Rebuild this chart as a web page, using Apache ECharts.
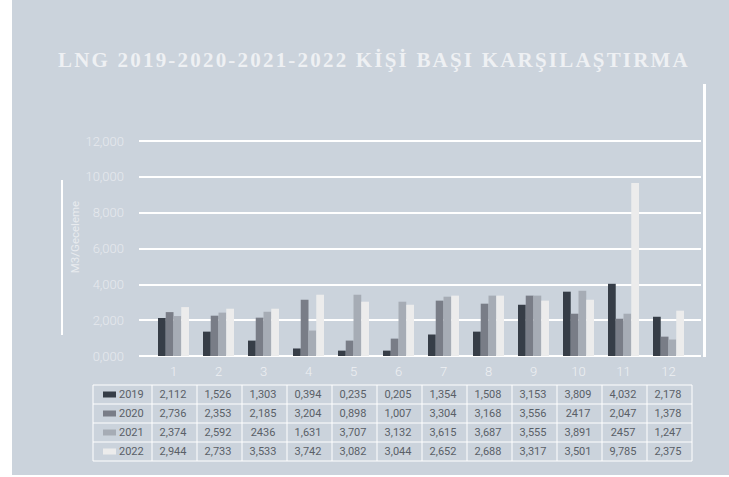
<!DOCTYPE html>
<html><head><meta charset="utf-8">
<script src="https://cdn.jsdelivr.net/npm/echarts@6/dist/echarts.min.js"></script>
<style>html,body{margin:0;padding:0;background:#fff}#c{width:729px;height:477px}</style>
</head><body><div id="c"></div>
<script>
const titleText = 'LNG 2019-2020-2021-2022 KİŞİ BAŞI KARŞILAŞTIRMA';
const axisName = 'M3/Geceleme';
const months = ['1','2','3','4','5','6','7','8','9','10','11','12'];
const yTicks = [0, 2, 4, 6, 8, 10, 12];
const seriesNames = ['2019','2020','2021','2022'];
// bar heights as drawn in the picture
const bars2019 = [2.12, 1.36, 0.86, 0.42, 0.30, 0.30, 1.20, 1.36, 2.86, 3.59, 4.03, 2.19];
const bars2020 = [2.45, 2.25, 2.14, 3.14, 0.86, 0.97, 3.09, 2.92, 3.37, 2.36, 2.08, 1.08];
const bars2021 = [2.23, 2.42, 2.47, 1.42, 3.42, 3.03, 3.31, 3.37, 3.37, 3.64, 2.36, 0.92];
const bars2022 = [2.73, 2.64, 2.64, 3.42, 3.03, 2.86, 3.37, 3.37, 3.09, 3.14, 9.65, 2.53];
// data table text as printed
const table2019 = ['2,112','1,526','1,303','0,394','0,235','0,205','1,354','1,508','3,153','3,809','4,032','2,178'];
const table2020 = ['2,736','2,353','2,185','3,204','0,898','1,007','3,304','3,168','3,556','2417','2,047','1,378'];
const table2021 = ['2,374','2,592','2436','1,631','3,707','3,132','3,615','3,687','3,555','3,891','2457','1,247'];
const table2022 = ['2,944','2,733','3,533','3,742','3,082','3,044','2,652','2,688','3,317','3,501','9,785','2,375'];
const colors = ['#363d47','#797d87','#a6acb5','#ececec'];

const barData = [bars2019, bars2020, bars2021, bars2022];
const tableData = [table2019, table2020, table2021, table2022];

const chart = echarts.init(document.getElementById('c'), null, {renderer:'svg'});
const gTop = 141, gBottom = 121;
const tLeft = 93, legW = 59, colW = 45, tTop = 385, rowH = 19;
const txtColor = '#5a5f67';
const graphics = [
  {type:'rect', shape:{x:12,y:0,width:717,height:475}, style:{fill:'#cbd3dc'}, z:-10},
  {type:'rect', shape:{x:61,y:180,width:2,height:155}, style:{fill:'#ffffff'}},
  {type:'rect', shape:{x:703,y:84,width:3,height:273}, style:{fill:'#ffffff'}},
  {type:'text', x:75, y:237, rotation:Math.PI/2, style:{text:axisName, fill:'#e8ebef', font:'11.5px Roboto', textAlign:'center', textVerticalAlign:'middle'}}
];
// table grid
const tRight = tLeft + legW + colW*12;
for (let r=0; r<=4; r++) {
  graphics.push({type:'line', shape:{x1:tLeft,y1:tTop+r*rowH,x2:tRight,y2:tTop+r*rowH}, style:{stroke:'#ffffff',lineWidth:1}});
}
graphics.push({type:'line', shape:{x1:tLeft,y1:tTop,x2:tLeft,y2:tTop+4*rowH}, style:{stroke:'#ffffff',lineWidth:1}});
for (let c=0; c<=12; c++) {
  const x = tLeft+legW+c*colW;
  graphics.push({type:'line', shape:{x1:x,y1:tTop,x2:x,y2:tTop+4*rowH}, style:{stroke:'#ffffff',lineWidth:1}});
}
for (let r=0; r<4; r++) {
  const cy = tTop + r*rowH + rowH/2;
  graphics.push({type:'rect', shape:{x:tLeft+10,y:cy-3,width:13,height:6}, style:{fill:colors[r]}});
  graphics.push({type:'text', x:tLeft+26, y:cy, style:{text:seriesNames[r], fill:txtColor, font:'11px Roboto', textVerticalAlign:'middle'}});
  for (let c=0; c<12; c++) {
    graphics.push({type:'text', x:tLeft+legW+c*colW+colW/2-1.5, y:cy, style:{text:tableData[r][c], fill:txtColor, font:'11px Roboto', textAlign:'center', textVerticalAlign:'middle'}});
  }
}

chart.setOption({
  animation:false,
  backgroundColor:'#ffffff',
  title:{text:titleText, left:369, top:44, textAlign:'center', textStyle:{fontFamily:'Liberation Serif', fontSize:21, fontWeight:'bold', color:'#eef0f3'}},
  grid:[
    {left:139, right:28, top:gTop, bottom:gBottom},
    {left:151, right:38, top:gTop, bottom:gBottom}
  ],
  xAxis:[
    {gridIndex:0, type:'value', show:false, min:0, max:1},
    {gridIndex:1, type:'category', data:months, axisLine:{show:false}, axisTick:{show:false},
     axisLabel:{color:'#eef0f3', fontFamily:'Roboto', fontWeight:300, fontSize:13, margin:9}}
  ],
  yAxis:[
    {gridIndex:0, type:'value', min:yTicks[0], max:yTicks[yTicks.length-1], interval:2,
     axisLine:{show:false}, axisTick:{show:false},
     splitLine:{lineStyle:{color:'#ffffff', width:2}},
     axisLabel:{color:'#e6e9ee', fontFamily:'Roboto', fontWeight:300, fontSize:13, margin:15,
       formatter:v=>v.toFixed(3).replace('.', ',')}},
    {gridIndex:1, type:'value', min:yTicks[0], max:yTicks[yTicks.length-1], interval:2, show:false, splitLine:{show:false}}
  ],
  series: seriesNames.map((n,i)=>({
    name:n, type:'bar', xAxisIndex:1, yAxisIndex:1, data:barData[i],
    barGap:'0%', barCategoryGap:'31%', itemStyle:{color:colors[i]}
  })),
  graphic: graphics
});
document.querySelectorAll('#c text').forEach(t => {
  if (t.textContent === titleText) t.setAttribute('letter-spacing', '2.2');
});
</script></body></html>
